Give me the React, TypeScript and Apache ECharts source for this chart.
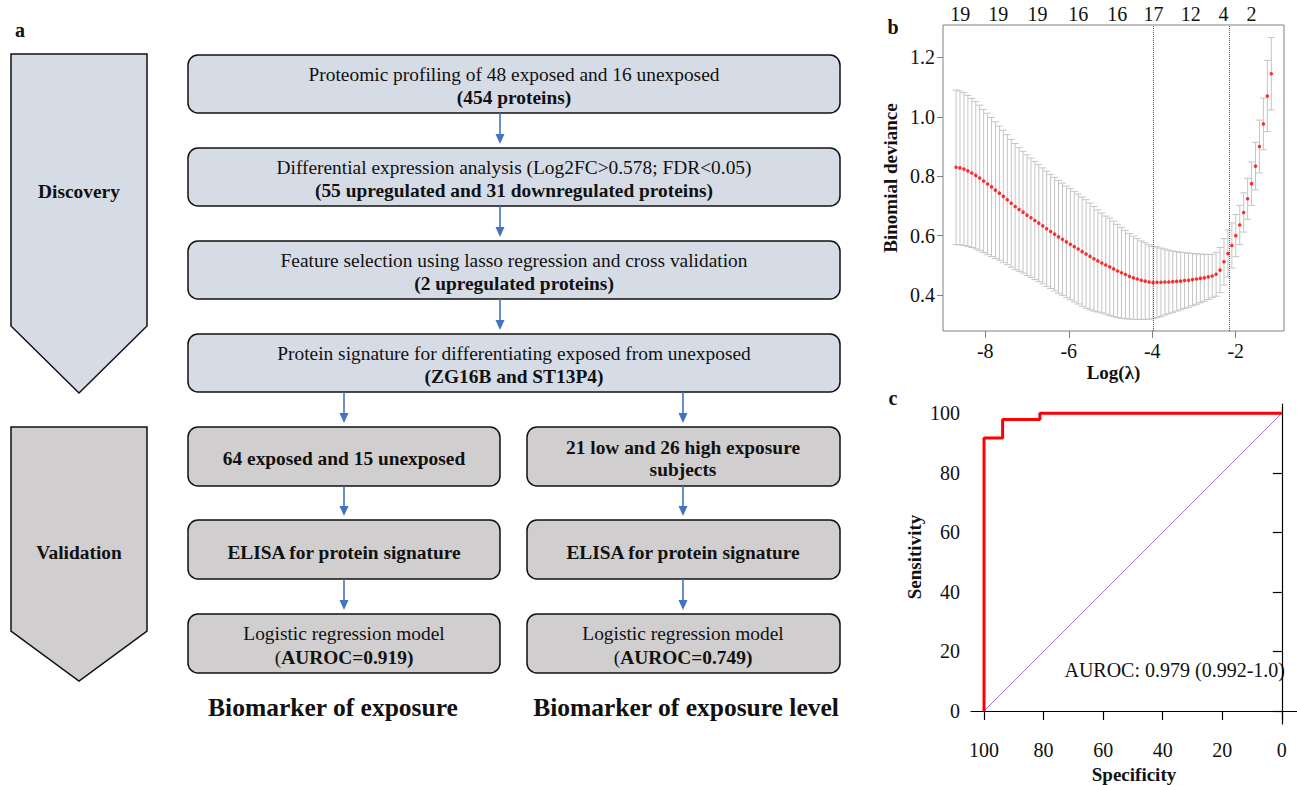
import React, { useEffect, useRef } from "react";
import * as echarts from "echarts";

// ---------- Panel b: cross-validated lasso (binomial deviance) ----------
const logLambda = [
  -8.700, -8.606, -8.511, -8.417, -8.322, -8.228, -8.134, -8.039, -7.945, -7.850,
  -7.756, -7.662, -7.567, -7.473, -7.378, -7.284, -7.190, -7.095, -7.001, -6.906,
  -6.812, -6.718, -6.623, -6.529, -6.434, -6.340, -6.246, -6.151, -6.057, -5.962,
  -5.868, -5.774, -5.679, -5.585, -5.490, -5.396, -5.302, -5.207, -5.113, -5.018,
  -4.924, -4.830, -4.735, -4.641, -4.546, -4.452, -4.358, -4.263, -4.169, -4.074,
  -3.980, -3.886, -3.791, -3.697, -3.602, -3.508, -3.414, -3.319, -3.225, -3.130,
  -3.036, -2.942, -2.847, -2.753, -2.658, -2.564, -2.470, -2.375, -2.281, -2.186,
  -2.092, -1.998, -1.903, -1.809, -1.714, -1.620, -1.526, -1.431, -1.337, -1.242,
  -1.148,
];
const cvMean = [
  0.830, 0.828, 0.824, 0.818, 0.811, 0.803, 0.794, 0.784, 0.774, 0.764,
  0.753, 0.743, 0.732, 0.721, 0.709, 0.698, 0.688, 0.679, 0.669, 0.660,
  0.651, 0.642, 0.633, 0.623, 0.614, 0.605, 0.596, 0.588, 0.579, 0.571,
  0.563, 0.555, 0.546, 0.538, 0.530, 0.522, 0.515, 0.508, 0.501, 0.495,
  0.488, 0.481, 0.475, 0.469, 0.463, 0.458, 0.454, 0.450, 0.447, 0.444,
  0.442, 0.443, 0.443, 0.444, 0.444, 0.445, 0.446, 0.447, 0.449, 0.450,
  0.452, 0.454, 0.456, 0.458, 0.461, 0.464, 0.470, 0.484, 0.512, 0.540,
  0.567, 0.600, 0.636, 0.678, 0.724, 0.775, 0.834, 0.900, 0.976, 1.070,
  1.145,
];
const cvSd = [
  0.260, 0.259, 0.257, 0.254, 0.251, 0.248, 0.245, 0.241, 0.238, 0.234,
  0.230, 0.226, 0.223, 0.219, 0.215, 0.212, 0.208, 0.205, 0.203, 0.201,
  0.199, 0.197, 0.195, 0.194, 0.192, 0.191, 0.190, 0.189, 0.188, 0.187,
  0.186, 0.185, 0.184, 0.183, 0.180, 0.176, 0.172, 0.168, 0.165, 0.164,
  0.161, 0.157, 0.153, 0.149, 0.144, 0.140, 0.136, 0.132, 0.129, 0.125,
  0.122, 0.119, 0.115, 0.111, 0.107, 0.103, 0.100, 0.097, 0.094, 0.091,
  0.088, 0.085, 0.082, 0.079, 0.076, 0.073, 0.074, 0.076, 0.078, 0.079,
  0.076, 0.071, 0.066, 0.066, 0.069, 0.073, 0.080, 0.089, 0.087, 0.120,
  0.122,
];
const nonzeroPos = [-8.60, -7.69, -6.75, -5.77, -4.84, -3.97, -3.08, -2.29, -1.62];
const nonzeroCounts = [19, 19, 19, 16, 16, 17, 12, 4, 2];
const lambdaMinLog = -3.98;
const lambda1seLog = -2.16;
const devianceTicks = [0.4, 0.6, 0.8, 1.0, 1.2];
const logLambdaTicks = [-8, -6, -4, -2];

// ---------- Panel c: ROC ----------
const rocSpecificity = [100, 100, 93.75, 93.75, 81.25, 81.25, 0];
const rocSensitivity = [0, 91.67, 91.67, 97.92, 97.92, 100, 100];
const chanceSpecificity = [100, 0];
const chanceSensitivity = [0, 100];
const rocTicks = [0, 20, 40, 60, 80, 100];
const aurocLabel = "AUROC: 0.979 (0.992-1.0)";

// ---------- Panel a: flowchart texts ----------
const discoverySteps = [
  ["Proteomic profiling of 48 exposed and 16 unexposed", "(454 proteins)"],
  ["Differential expression analysis (Log2FC>0.578; FDR<0.05)", "(55 upregulated and 31 downregulated proteins)"],
  ["Feature selection using lasso regression and cross validation", "(2 upregulated proteins)"],
  ["Protein signature for differentiating exposed from unexposed", "(ZG16B and ST13P4)"],
];
const exposureSteps = ["64 exposed and 15 unexposed", "ELISA for protein signature", "Logistic regression model", "AUROC=0.919)"];
const levelSteps = ["21 low and 26 high exposure", "subjects", "ELISA for protein signature", "Logistic regression model", "AUROC=0.749)"];
const phaseLabels = ["Discovery", "Validation"];
const columnTitles = ["Biomarker of exposure", "Biomarker of exposure level"];

const FONT = "'Liberation Serif', 'Times New Roman', serif";
const BLUE_FILL = "#d6dce5";
const GRAY_FILL = "#d0cece";
const ARROW = "#4472c4";
const INK = "#111111";
const BOX_FS = 19.4;

function txt(x: number, y: number, text: string, size: number, bold: boolean, align = "center") {
  return {
    type: "text",
    x,
    y,
    silent: true,
    style: {
      text,
      fontSize: size,
      fontFamily: FONT,
      fontWeight: bold ? "bold" : "normal",
      fill: INK,
      align,
      verticalAlign: "middle",
    },
  };
}

function aurocText(x: number, y: number, rest: string) {
  return {
    type: "text",
    x,
    y,
    silent: true,
    style: {
      text: "{n|(}{b|" + rest + "}",
      fill: INK,
      align: "center",
      verticalAlign: "middle",
      fontSize: BOX_FS,
      fontFamily: FONT,
      rich: {
        n: { fontSize: BOX_FS, fontFamily: FONT, fontWeight: "normal", fill: INK },
        b: { fontSize: BOX_FS, fontFamily: FONT, fontWeight: "bold", fill: INK },
      },
    },
  };
}

function box(x: number, y: number, w: number, h: number, fill: string) {
  return {
    type: "rect",
    silent: true,
    shape: { x, y, width: w, height: h, r: 10 },
    style: { fill, stroke: INK, lineWidth: 1.5 },
  };
}

function arrow(x: number, y1: number, y2: number) {
  return [
    {
      type: "line",
      silent: true,
      shape: { x1: x, y1, x2: x, y2: y2 - 8 },
      style: { stroke: ARROW, lineWidth: 1.6 },
    },
    {
      type: "polygon",
      silent: true,
      shape: { points: [[x - 4.5, y2 - 10], [x + 4.5, y2 - 10], [x, y2]] },
      style: { fill: ARROW },
    },
  ];
}

function buildFlowchart() {
  const g: any[] = [];
  g.push(txt(20, 30, "a", 20, true));
  g.push({
    type: "polygon",
    silent: true,
    shape: { points: [[11, 54], [147, 54], [147, 326], [79, 393], [11, 326]] },
    style: { fill: BLUE_FILL, stroke: INK, lineWidth: 1.5 },
  });
  g.push({
    type: "polygon",
    silent: true,
    shape: { points: [[11, 427], [147, 427], [147, 631], [79, 681], [11, 631]] },
    style: { fill: GRAY_FILL, stroke: INK, lineWidth: 1.5 },
  });
  g.push(txt(79, 191, phaseLabels[0], BOX_FS, true));
  g.push(txt(79, 552, phaseLabels[1], BOX_FS, true));

  const tops = [55, 148, 241, 334];
  tops.forEach((t, i) => {
    g.push(box(188, t, 652, 58, BLUE_FILL));
    g.push(txt(514, t + 19, discoverySteps[i][0], BOX_FS, false));
    g.push(txt(514, t + 42, discoverySteps[i][1], BOX_FS, true));
    if (i < 3) g.push(...arrow(500, t + 58, tops[i + 1] - 4));
  });
  g.push(...arrow(344, 392, 423));
  g.push(...arrow(683, 392, 423));

  const vtops = [427, 520, 614];
  vtops.forEach((t, i) => {
    g.push(box(188, t, 312, 59, GRAY_FILL));
    g.push(box(527, t, 313, 59, GRAY_FILL));
    if (i < 2) {
      g.push(...arrow(344, t + 59, vtops[i + 1] - 4));
      g.push(...arrow(683, t + 59, vtops[i + 1] - 4));
    }
  });
  g.push(txt(344, 458, exposureSteps[0], BOX_FS, true));
  g.push(txt(344, 552, exposureSteps[1], BOX_FS, true));
  g.push(txt(344, 633, exposureSteps[2], BOX_FS, false));
  g.push(aurocText(344, 657, exposureSteps[3]));
  g.push(txt(683, 447, levelSteps[0], BOX_FS, true));
  g.push(txt(683, 469, levelSteps[1], BOX_FS, true));
  g.push(txt(683, 552, levelSteps[2], BOX_FS, true));
  g.push(txt(683, 633, levelSteps[3], BOX_FS, false));
  g.push(aurocText(683, 657, levelSteps[4]));

  g.push(txt(333, 707, columnTitles[0], 25.5, true));
  g.push(txt(686, 707, columnTitles[1], 25.5, true));

  g.push(txt(893, 27, "b", 20, true));
  g.push(txt(893, 398, "c", 20, true));
  g.push(txt(1285, 670, aurocLabel, 20, false, "right"));
  g.push({
    type: "text",
    x: 914,
    y: 557,
    rotation: Math.PI / 2,
    silent: true,
    style: {
      text: "Sensitivity",
      fontSize: 19,
      fontFamily: FONT,
      fontWeight: "bold",
      fill: INK,
      align: "center",
      verticalAlign: "middle",
    },
  });
  return g;
}

const labelStyle = { fontSize: 20, fontFamily: FONT, color: INK };
const nameStyle = { fontSize: 19, fontFamily: FONT, fontWeight: "bold", color: INK };

export default function App() {
  const ref = useRef<HTMLDivElement>(null);
  useEffect(() => {
    document.body.style.margin = "0";
    if (!ref.current) return;
    const chart = echarts.init(ref.current, null, { renderer: "svg" });
    const errData = logLambda.map((x, i) => [x, cvMean[i], cvSd[i]]);
    const option: any = {
      animation: false,
      backgroundColor: "#ffffff",
      textStyle: { fontFamily: FONT },
      grid: [
        { left: 943, top: 25, width: 341, height: 306, show: true, borderColor: "#808080", borderWidth: 1 },
        { left: 971, top: 404, width: 326, height: 320 },
      ],
      xAxis: [
        {
          gridIndex: 0,
          type: "value",
          min: -9.013,
          max: -0.843,
          axisLine: { show: false },
          axisTick: { show: true, length: 7, customValues: logLambdaTicks, lineStyle: { color: "#808080" } },
          axisLabel: { ...labelStyle, customValues: logLambdaTicks, margin: 10, formatter: (v: number) => String(v) },
          splitLine: { show: false },
          name: "Log(λ)",
          nameLocation: "middle",
          nameGap: 32,
          nameTextStyle: nameStyle,
        },
        {
          gridIndex: 0,
          type: "value",
          position: "top",
          min: -9.013,
          max: -0.843,
          axisLine: { show: false },
          axisTick: { show: false },
          splitLine: { show: false },
          axisLabel: {
            ...labelStyle,
            customValues: nonzeroPos,
            margin: 1,
            formatter: (v: number) => {
              let best = 0;
              nonzeroPos.forEach((p, i) => {
                if (Math.abs(p - v) < Math.abs(nonzeroPos[best] - v)) best = i;
              });
              return String(nonzeroCounts[best]);
            },
          },
        },
        {
          gridIndex: 1,
          type: "value",
          inverse: true,
          min: -5.1,
          max: 104.37,
          axisLine: { show: true, lineStyle: { color: "#000", width: 1.2 } },
          axisTick: { show: true, length: 9, customValues: rocTicks, lineStyle: { color: "#000", width: 1.2 } },
          axisLabel: { ...labelStyle, customValues: rocTicks, margin: 16 },
          splitLine: { show: false },
          name: "Specificity",
          nameLocation: "middle",
          nameGap: 41,
          nameTextStyle: nameStyle,
        },
      ],
      yAxis: [
        {
          gridIndex: 0,
          type: "value",
          min: 0.279,
          max: 1.309,
          axisLine: { show: false },
          axisTick: { show: true, length: 6, customValues: devianceTicks, lineStyle: { color: "#808080" } },
          axisLabel: { ...labelStyle, customValues: devianceTicks, margin: 8, formatter: (v: number) => v.toFixed(1) },
          splitLine: { show: false },
          name: "Binomial deviance",
          nameLocation: "middle",
          nameGap: 43,
          nameRotate: 90,
          nameTextStyle: nameStyle,
        },
        {
          gridIndex: 1,
          type: "value",
          min: -4.36,
          max: 103.1,
          axisLine: { show: true, lineStyle: { color: "#000", width: 1.2 } },
          axisTick: { show: true, length: 9, customValues: rocTicks, lineStyle: { color: "#000", width: 1.2 } },
          axisLabel: { ...labelStyle, customValues: rocTicks, margin: 11 },
          splitLine: { show: false },
        },
      ],
      series: [
        {
          type: "custom",
          xAxisIndex: 0,
          yAxisIndex: 0,
          silent: true,
          z: 2,
          encode: { x: 0, y: 1 },
          data: errData,
          renderItem: (params: any, api: any) => {
            const x = api.value(0);
            const m = api.value(1);
            const s = api.value(2);
            const top = api.coord([x, m + s]);
            const bot = api.coord([x, m - s]);
            const w = 3.5;
            const st = { stroke: "#c4c4c4", lineWidth: 1 };
            return {
              type: "group",
              children: [
                { type: "line", shape: { x1: top[0], y1: top[1], x2: bot[0], y2: bot[1] }, style: st },
                { type: "line", shape: { x1: top[0] - w, y1: top[1], x2: top[0] + w, y2: top[1] }, style: st },
                { type: "line", shape: { x1: bot[0] - w, y1: bot[1], x2: bot[0] + w, y2: bot[1] }, style: st },
              ],
            };
          },
        },
        {
          type: "scatter",
          xAxisIndex: 0,
          yAxisIndex: 0,
          silent: true,
          z: 3,
          symbolSize: 3.6,
          itemStyle: { color: "#ff0000" },
          data: logLambda.map((x, i) => [x, cvMean[i]]),
          markLine: {
            silent: true,
            symbol: ["none", "none"],
            label: { show: false },
            lineStyle: { type: "dotted", color: "#555555", width: 1 },
            data: [{ xAxis: lambdaMinLog }, { xAxis: lambda1seLog }],
          },
        },
        {
          type: "line",
          xAxisIndex: 2,
          yAxisIndex: 1,
          silent: true,
          showSymbol: false,
          z: 2,
          lineStyle: { color: "#9a76d4", width: 1 },
          data: chanceSpecificity.map((x, i) => [x, chanceSensitivity[i]]),
        },
        {
          type: "line",
          xAxisIndex: 2,
          yAxisIndex: 1,
          silent: true,
          showSymbol: false,
          z: 3,
          lineStyle: { color: "#ff0000", width: 3 },
          data: rocSpecificity.map((x, i) => [x, rocSensitivity[i]]),
        },
      ],
      graphic: buildFlowchart(),
    };
    chart.setOption(option);
    return () => chart.dispose();
  }, []);
  return <div ref={ref} style={{ width: 1297, height: 785 }} />;
}
